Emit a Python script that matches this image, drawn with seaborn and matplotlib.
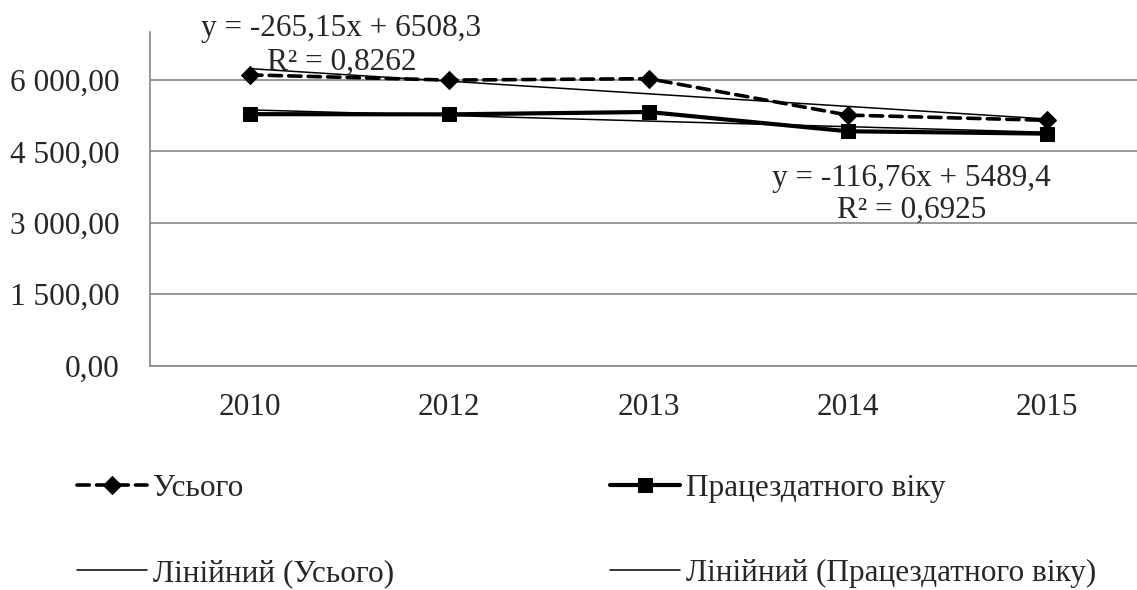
import numpy as np
import pandas as pd
import seaborn as sns
import matplotlib.pyplot as plt
from matplotlib.ticker import FuncFormatter

# Data
years = ['2010', '2012', '2013', '2014', '2015']
total = [6110, 6000, 6030, 5265, 5155]           # Усього
working_age = [5285, 5280, 5330, 4925, 4875]     # Працездатного віку
y_ticks = [0, 1500, 3000, 4500, 6000]

sns.set_theme(style='white')
plt.rcParams['font.family'] = ['Liberation Serif', 'DejaVu Serif']

df = pd.DataFrame({'pos': np.arange(len(years)), 'year': years,
                   'Усього': total, 'Працездатного віку': working_age})

fig = plt.figure(figsize=(11.37, 5.9), dpi=100)
ax = fig.add_axes([150 / 1137, (590 - 365.7) / 590, 997 / 1137, 333.2 / 590])

fs = 22.5

# main series
sns.lineplot(data=df, x='pos', y='Усього', ax=ax, color='black', lw=2.6,
             marker='D', markersize=9, markeredgecolor='black',
             dashes=(3.4, 2.0), dash_capstyle='round', label='Усього', zorder=4)
sns.lineplot(data=df, x='pos', y='Працездатного віку', ax=ax, color='black', lw=3.0,
             marker='s', markersize=10.5, markeredgecolor='black',
             label='Працездатного віку', zorder=4)

# linear trends (Excel style, x = 1..n)
xn = np.arange(1, len(years) + 1)
for vals, name in [(total, 'Лінійний (Усього)'), (working_age, 'Лінійний (Працездатного віку)')]:
    k, b = np.polyfit(xn, vals, 1)
    sns.lineplot(x=df['pos'], y=k * xn + b, ax=ax, color='black', lw=1.1,
                 label=name, zorder=3)

ax.text(0.46, 6727, 'y = -265,15x + 6508,3\nR² = 0,8262', ha='center', va='center',
        fontsize=fs, linespacing=1.2, clip_on=False, zorder=5)
ax.text(3.32, 3597, 'y = -116,76x + 5489,4\nR² = 0,6925', ha='center', va='center',
        fontsize=fs, linespacing=1.15, clip_on=False, zorder=5)

# axes
ax.set_xlim(-0.5, len(years) - 0.5)
ax.set_ylim(0, 7000)
ax.set_yticks(y_ticks)
ax.yaxis.set_major_formatter(FuncFormatter(
    lambda v, p: f'{v:,.2f}'.replace(',', ' ').replace('.', ',')))
ax.set_xticks(np.arange(len(years) + 1) - 0.5)
ax.set_xticklabels([])
ax.set_xticks(np.arange(len(years)), minor=True)
ax.set_xticklabels(years, minor=True)
ax.tick_params(axis='x', which='major', length=9, width=1.2, color='#888888', direction='out')
ax.tick_params(axis='x', which='minor', length=0, pad=20, labelsize=fs)
ax.tick_params(axis='y', length=9, width=1.2, color='#888888', direction='out',
               pad=13, labelsize=fs)
ax.set_xlabel('')
ax.set_ylabel('')
ax.grid(axis='y', color='#888888', lw=1.2)
for s in ['top', 'right']:
    ax.spines[s].set_visible(False)
for s in ['left', 'bottom']:
    ax.spines[s].set_color('#888888')
    ax.spines[s].set_linewidth(1.2)

handles, labels = ax.get_legend_handles_labels()
ax.legend_.remove()
order = [0, 2, 1, 3]
fig.legend([handles[i] for i in order], [labels[i] for i in order],
           ncol=2, loc='upper left', bbox_to_anchor=(0.0567, 0.2186), frameon=False,
           fontsize=fs, handlelength=2.24, handletextpad=0.19,
           labelspacing=1.8, columnspacing=6.9, borderaxespad=0)

fig.savefig('out.png', dpi=100)
